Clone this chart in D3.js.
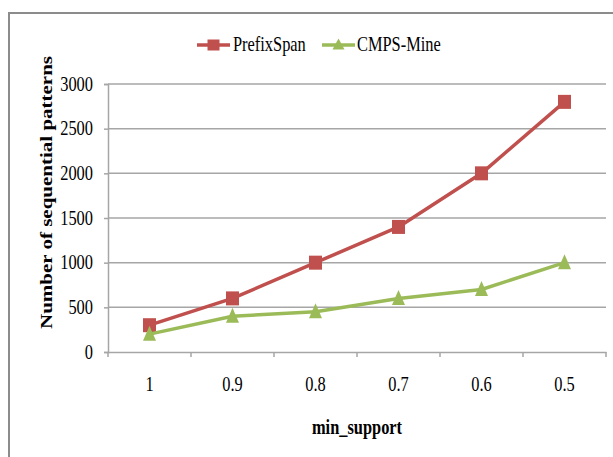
<!DOCTYPE html>
<html>
<head>
<meta charset="utf-8">
<script src="https://cdn.jsdelivr.net/npm/d3@7"></script>
<style>
  html, body { margin: 0; padding: 0; background: #fff; }
  svg { display: block; }
</style>
</head>
<body>
<div id="chart"></div>
<script>
// Support thresholds on the x axis, pattern counts per algorithm
const categories = ["1", "0.9", "0.8", "0.7", "0.6", "0.5"];
const prefixSpan = [300, 600, 1000, 1400, 2000, 2800];
const cmpsMine = [200, 400, 450, 600, 700, 1000];
const yTicks = [0, 500, 1000, 1500, 2000, 2500, 3000];
const seriesNames = ["PrefixSpan", "CMPS-Mine"];

const W = 613, H = 457;
const SQ = 0.82; // horizontal squeeze applied to all type
const FONT = "'Liberation Serif', Tinos, 'Times New Roman', Times, serif";
const red = "#C0504D", green = "#9BBB59";

const svg = d3.select("#chart").append("svg")
  .attr("width", W).attr("height", H)
  .attr("font-family", FONT);

// Outer frame (only top and left edges fall inside the canvas)
svg.append("path")
  .attr("d", `M9,${H} L9,13 L${W},13`)
  .attr("fill", "none").attr("stroke", "#8c8c8c").attr("stroke-width", 2);

const plot = { left: 108, right: 606, top: 84, bottom: 352 };

const x = d3.scaleBand().domain(categories).range([plot.left, plot.right]);
const y = d3.scaleLinear().domain([0, 3000]).range([plot.bottom, plot.top]);

function label(sel, tx, ty, extra) {
  return sel.attr("x", 0).attr("y", 0)
    .attr("font-family", FONT).attr("fill", "#000")
    .attr("transform", `translate(${tx},${ty}) scale(${SQ},1)` + (extra || ""));
}

// Horizontal gridlines
svg.append("g").selectAll("line").data(yTicks.filter(d => d > 0)).join("line")
  .attr("x1", plot.left).attr("x2", plot.right)
  .attr("y1", d => y(d)).attr("y2", d => y(d))
  .attr("stroke", "#a6a6a6").attr("stroke-width", 1.5);

// Y axis
const yAxis = svg.append("g").attr("transform", `translate(${plot.left},0)`)
  .call(d3.axisLeft(y).tickValues(yTicks).tickSize(4).tickFormat(""));
yAxis.select(".domain").attr("stroke", "#a6a6a6").attr("stroke-width", 1.5);
yAxis.selectAll(".tick line").attr("stroke", "#a6a6a6").attr("stroke-width", 1.5);

svg.append("g").selectAll("text").data(yTicks).join("text")
  .each(function (d) { label(d3.select(this), 93, y(d) + 6.5); })
  .attr("text-anchor", "end").attr("font-size", 20)
  .text(d => d);

// X axis with ticks on band edges
const xAxis = svg.append("g").attr("transform", `translate(0,${plot.bottom})`)
  .call(d3.axisBottom(x).tickSize(0).tickFormat(""));
xAxis.select(".domain").attr("stroke", "#a6a6a6").attr("stroke-width", 1.5);
const edges = categories.map(c => x(c)).concat([x(categories[categories.length - 1]) + x.bandwidth()]);
svg.append("g").selectAll("line").data(edges).join("line")
  .attr("x1", d => d).attr("x2", d => d)
  .attr("y1", plot.bottom).attr("y2", plot.bottom + 5)
  .attr("stroke", "#a6a6a6").attr("stroke-width", 1.5);

svg.append("g").selectAll("text").data(categories).join("text")
  .each(function (d) { label(d3.select(this), x(d) + x.bandwidth() / 2, 391); })
  .attr("text-anchor", "middle").attr("font-size", 20)
  .text(d => d);

// Axis titles
label(svg.append("text"), (plot.left + plot.right) / 2, 434)
  .attr("text-anchor", "middle").attr("font-size", 20).attr("font-weight", "bold")
  .text("min_support");

label(svg.append("text"), 51.5, 192.5, " rotate(-90)")
  .attr("text-anchor", "middle").attr("font-size", 21).attr("font-weight", "bold")
  .text("Number of sequential patterns");

// Series lines and markers
const cx = c => x(c) + x.bandwidth() / 2;
const line = d3.line().x(d => cx(d[0])).y(d => y(d[1]));

const tri = (w, h) => `M0,${-h / 2} L${w / 2},${h / 2} L${-w / 2},${h / 2} Z`;

function drawSeries(values, color, marker) {
  const pts = categories.map((c, i) => [c, values[i]]);
  svg.append("path").datum(pts)
    .attr("d", line).attr("fill", "none")
    .attr("stroke", color).attr("stroke-width", 3.5).attr("stroke-linejoin", "round");
  const g = svg.append("g");
  if (marker === "square") {
    g.selectAll("rect").data(pts).join("rect")
      .attr("x", d => cx(d[0]) - 6.5).attr("y", d => y(d[1]) - 7)
      .attr("width", 13).attr("height", 14).attr("fill", color);
  } else {
    g.selectAll("path").data(pts).join("path")
      .attr("d", tri(13, 15))
      .attr("transform", d => `translate(${cx(d[0])},${y(d[1]) - 1})`)
      .attr("fill", color);
  }
}
drawSeries(prefixSpan, red, "square");
drawSeries(cmpsMine, green, "triangle");

// Legend
const legend = [
  { name: seriesNames[0], color: red, marker: "square", x0: 197, x1: 230, tx: 233 },
  { name: seriesNames[1], color: green, marker: "triangle", x0: 322, x1: 355, tx: 357 }
];
const ly = 45;
legend.forEach(l => {
  svg.append("line").attr("x1", l.x0).attr("x2", l.x1).attr("y1", ly).attr("y2", ly)
    .attr("stroke", l.color).attr("stroke-width", 3.5);
  const mx = (l.x0 + l.x1) / 2;
  if (l.marker === "square") {
    svg.append("rect").attr("x", mx - 6).attr("y", ly - 5.5).attr("width", 12).attr("height", 11).attr("fill", l.color);
  } else {
    svg.append("path").attr("d", tri(12, 11)).attr("transform", `translate(${mx},${ly - 1})`).attr("fill", l.color);
  }
  label(svg.append("text"), l.tx, 50.5).attr("font-size", 20).text(l.name);
});
</script>
</body>
</html>
